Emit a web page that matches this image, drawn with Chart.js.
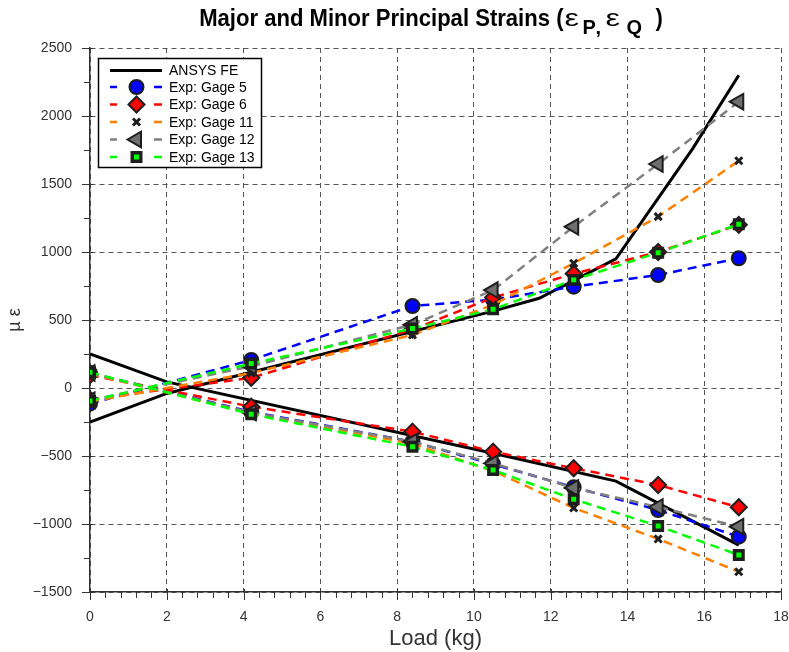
<!DOCTYPE html>
<html>
<head>
<meta charset="utf-8">
<script src="https://cdn.jsdelivr.net/npm/chart.js@4"></script>
<style>
  html, body { margin: 0; padding: 0; background: #fff; }
  canvas { display: block; }
</style>
</head>
<body>
<canvas id="chart" width="789" height="652"></canvas>
<script>
// loads (kg) where the gages were read
const loads = [0, 4.2, 8.4, 10.5, 12.6, 14.8, 16.9];

// ANSYS FE curves
const feMajorX = [0, 2, 10.5, 11.7, 13.7, 15.7, 16.9];
const feMajorY = [-250, -40, 565, 660, 950, 1760, 2300];
const feMinorX = [0, 2, 10.5, 13.7, 16.9];
const feMinorY = [250, 45, -480, -685, -1155];

// experimental major strains (eps_P)
const g5Major  = [-115, 206, 603, 650, 745, 831, 954];
const g6Major  = [-85, 75, 430, 665, 840, 1000, 1200];
const g11Major = [-100, 110, 390, 612, 917, 1260, 1671];
const g12Major = [-90, 160, 465, 720, 1186, 1647, 2105];
const g13Major = [-95, 180, 437, 579, 795, 995, 1204];

// experimental minor strains (eps_Q)
const g5Minor  = [110, -175, -395, -560, -730, -897, -1093];
const g6Minor  = [95, -137, -321, -468, -590, -713, -877];
const g11Minor = [105, -185, -410, -610, -882, -1110, -1351];
const g12Minor = [110, -180, -395, -554, -735, -875, -1020];
const g13Minor = [115, -193, -432, -603, -818, -1015, -1228];

const xTicks = [0, 2, 4, 6, 8, 10, 12, 14, 16, 18];
const yTicks = [-1500, -1000, -500, 0, 500, 1000, 1500, 2000, 2500];

const FONT = '"Liberation Sans", Arial, Helvetica, sans-serif';
const pts = (xs, ys) => xs.map((x, i) => ({ x: x, y: ys[i] }));

const gages = [
  { label: 'Exp: Gage 5',  color: '#0000ff', major: g5Major,  minor: g5Minor,  order: 5,
    point: { pointStyle: 'circle', radius: 7, bg: '#0000ff', bw: 2 } },
  { label: 'Exp: Gage 6',  color: '#ff0000', major: g6Major,  minor: g6Minor,  order: 4,
    point: { pointStyle: 'rectRot', radius: 8, bg: '#ff0000', bw: 2 } },
  { label: 'Exp: Gage 11', color: '#ff8000', major: g11Major, minor: g11Minor, order: 3,
    point: { pointStyle: 'crossRot', radius: 5, bg: '#222', bw: 3 } },
  { label: 'Exp: Gage 12', color: '#808080', major: g12Major, minor: g12Minor, order: 2,
    point: { pointStyle: 'triangle', rotation: -90, radius: 9, bg: '#6e6e6e', bw: 2 } },
  { label: 'Exp: Gage 13', color: '#00ff00', major: g13Major, minor: g13Minor, order: 1,
    point: { pointStyle: 'rect', radius: 6, bg: '#00ff00', bw: 3.5 } }
];

const datasets = [
  { label: 'ANSYS FE', data: pts(feMajorX, feMajorY), borderColor: '#000', borderWidth: 3, pointRadius: 0, order: 10 },
  { label: 'ANSYS FE', data: pts(feMinorX, feMinorY), borderColor: '#000', borderWidth: 3, pointRadius: 0, order: 10 }
];
gages.forEach(g => {
  [g.major, g.minor].forEach(vals => {
    datasets.push({
      label: g.label,
      data: pts(loads, vals),
      borderColor: g.color,
      borderWidth: 2.5,
      borderDash: [9, 6],
      pointStyle: g.point.pointStyle,
      pointRotation: g.point.rotation || 0,
      pointRadius: g.point.radius,
      pointBackgroundColor: g.point.bg,
      pointBorderColor: '#1e1e1e',
      pointBorderWidth: g.point.bw,
      order: g.order
    });
  });
});

// draws text squeezed or stretched horizontally
function textScaled(ctx, txt, x, y, sx) {
  ctx.save();
  ctx.translate(x, y);
  ctx.scale(sx, 1);
  ctx.fillText(txt, 0, 0);
  ctx.restore();
}

// title with subscripts, ticks and legend box
const decor = {
  id: 'decor',
  afterDraw(chart) {
    const ctx = chart.ctx, a = chart.chartArea;
    const xs = chart.scales.x, ys = chart.scales.y;
    ctx.save();
    // ticks pointing out of the axes
    ctx.strokeStyle = '#333'; ctx.lineWidth = 1;
    ctx.beginPath();
    for (let v = 0; v <= 18.001; v += 0.4) {
      const px = Math.round(xs.getPixelForValue(v)) + 0.5;
      const major = Math.abs(v / 2 - Math.round(v / 2)) < 1e-6;
      ctx.moveTo(px, a.bottom - (major ? 3 : 0)); ctx.lineTo(px, a.bottom + (major ? 8 : 6));
    }
    for (let v = -1500; v <= 2500; v += 250) {
      const py = Math.round(ys.getPixelForValue(v)) + 0.5;
      const major = v % 500 === 0;
      ctx.moveTo(a.left + (major ? 3 : 0), py); ctx.lineTo(a.left - (major ? 8 : 6), py);
    }
    ctx.stroke();

    // title: main text, then the epsilon part placed by hand
    const main = 'Major and Minor Principal Strains (';
    const sub = [
      ['\u03b5', '24px', 1, 0, 1.35],
      ['P', 'bold 20px', 19, 8, 1],
      [',', 'bold 20px', 32, 8, 1],
      ['\u03b5', '24px', 42, 0, 1.35],
      ['Q', 'bold 20px', 63, 8, 1],
      [')', 'bold 24px', 92, 0, 0.92]
    ];
    const sq = 0.92;
    ctx.font = 'bold 24px ' + FONT;
    const mw = ctx.measureText(main).width * sq;
    const total = mw + 92 + ctx.measureText(')').width * sq;
    const x0 = 431 - total / 2;
    ctx.fillStyle = '#000'; ctx.textBaseline = 'alphabetic'; ctx.textAlign = 'left';
    textScaled(ctx, main, x0, 26, sq);
    sub.forEach(p => {
      ctx.font = p[1] + ' ' + FONT;
      textScaled(ctx, p[0], x0 + mw + p[2], 26 + p[3], p[4]);
    });
    ctx.restore();
  },
  afterDatasetsDraw(chart) {
    const ctx = chart.ctx;
    ctx.save();
    const bx = 98.5, by = 58.5, bw = 163, bh = 109;
    ctx.fillStyle = '#fff'; ctx.fillRect(bx, by, bw, bh);
    ctx.strokeStyle = '#000'; ctx.lineWidth = 1.5; ctx.strokeRect(bx, by, bw, bh);
    const rows = [70.5, 87, 104.5, 122, 139.5, 157];
    ctx.font = '14px ' + FONT; ctx.textBaseline = 'middle';
    // ANSYS row
    ctx.strokeStyle = '#000'; ctx.lineWidth = 3;
    ctx.beginPath(); ctx.moveTo(110, rows[0]); ctx.lineTo(162, rows[0]); ctx.stroke();
    ctx.fillStyle = '#000'; ctx.fillText('ANSYS FE', 169, rows[0] + 1);
    gages.forEach((g, i) => {
      const y = rows[i + 1];
      ctx.strokeStyle = g.color; ctx.lineWidth = 2.5;
      ctx.beginPath();
      ctx.moveTo(110, y); ctx.lineTo(117, y);
      ctx.moveTo(154, y); ctx.lineTo(162, y);
      ctx.stroke();
      ctx.fillStyle = g.point.bg; ctx.strokeStyle = '#1e1e1e';
      ctx.lineWidth = g.point.bw;
      Chart.helpers.drawPoint(ctx, {
        pointStyle: g.point.pointStyle, rotation: g.point.rotation || 0,
        radius: g.point.radius, borderWidth: g.point.bw
      }, 136.5, y);
      ctx.fillStyle = '#000';
      ctx.fillText(g.label, 169, y + 1);
    });
    ctx.restore();
  }
};

new Chart(document.getElementById('chart'), {
  type: 'line',
  data: { datasets: datasets },
  options: {
    responsive: false,
    animation: false,
    devicePixelRatio: 1,
    layout: { autoPadding: false, padding: { top: 48, right: 8, left: 0, bottom: 0 } },
    plugins: { legend: { display: false }, tooltip: { enabled: false }, title: { display: false } },
    elements: { line: { tension: 0, fill: false } },
    scales: {
      x: {
        type: 'linear', min: 0, max: 18,
        afterBuildTicks: s => { s.ticks = xTicks.map(v => ({ value: v })); },
        afterFit: s => { s.height = 60; s.paddingLeft = 0; s.paddingRight = 0; },
        grid: { color: '#555', lineWidth: 1, drawTicks: false },
        border: { display: true, color: '#333', width: 1.5, dash: [5, 4] },
        ticks: { padding: 17, color: '#333', font: { family: FONT, size: 14 } },
        title: { display: true, text: 'Load (kg)', color: '#333', padding: { top: 0, bottom: 0 },
                 font: { family: FONT, size: 22 } }
      },
      y: {
        type: 'linear', min: -1500, max: 2500,
        afterBuildTicks: s => { s.ticks = yTicks.map(v => ({ value: v })); },
        afterFit: s => { s.width = 90; s.paddingTop = 0; s.paddingBottom = 0; },
        grid: { color: '#555', lineWidth: 1, drawTicks: false },
        border: { display: true, color: '#333', width: 1.5, dash: [5, 4] },
        ticks: { padding: 18, color: '#333', font: { family: FONT, size: 14 },
                 callback: v => v < 0 ? '\u2212' + Math.abs(v) : String(v) },
        title: { display: true, text: '\u00b5 \u03b5', color: '#333', padding: { top: 4, bottom: 0 },
                 font: { family: FONT, size: 18 } }
      }
    }
  },
  plugins: [decor]
});
</script>
</body>
</html>
